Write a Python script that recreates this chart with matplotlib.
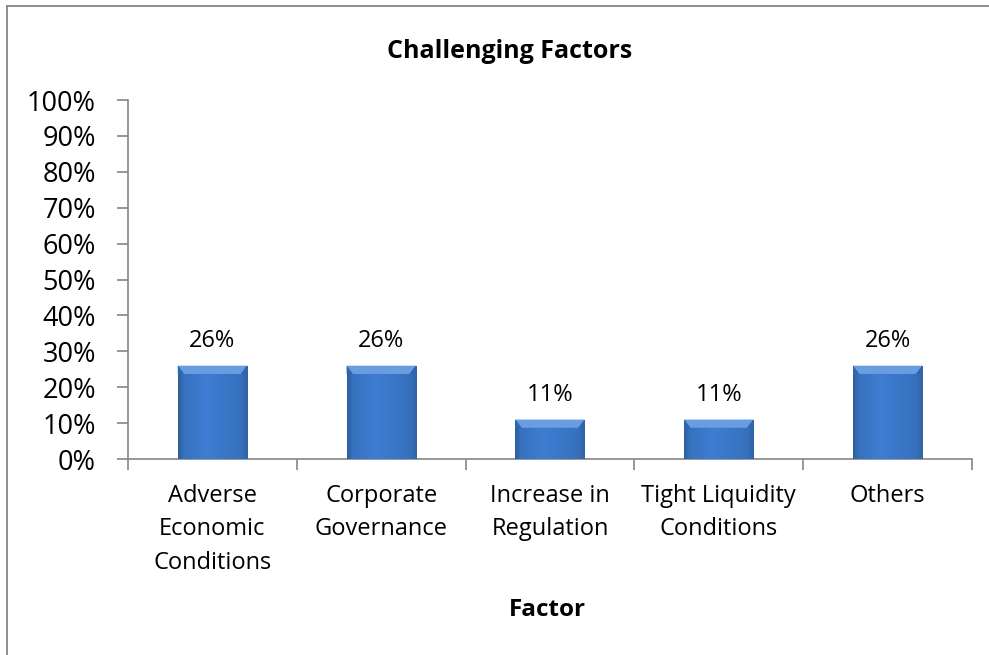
import numpy as np
import matplotlib.pyplot as plt
from matplotlib.patches import Polygon
from matplotlib.lines import Line2D

plt.rcParams['font.family'] = ['Open Sans', 'DejaVu Sans']

# data
categories = ['Adverse\nEconomic\nConditions', 'Corporate\nGovernance', 'Increase in\nRegulation',
              'Tight Liquidity\nConditions', 'Others']
values = [26, 26, 11, 11, 26]

fig = plt.figure(figsize=(9.89, 6.55), dpi=100)
ax = fig.add_axes([0.1294, 0.2992, 0.8534, 0.5481])

# outer chart border (only left/top visible in the reference)
bx, by = 7 / 989, 1 - 5.5 / 655
fig.add_artist(Line2D([bx, bx], [0, by], transform=fig.transFigure, color='#868686', lw=1.3))
fig.add_artist(Line2D([bx, 1], [by, by], transform=fig.transFigure, color='#868686', lw=1.3))

x = np.arange(len(values))
bars = ax.bar(x, values, width=0.41, color='#3b77c6', edgecolor='none', zorder=2)

# horizontal shading for the bars
grad = np.linspace(0, 1, 64)
shade = np.interp(grad, [0, 0.08, 0.4, 0.9, 1], [0.8, 0.96, 1.06, 0.96, 0.84])
base = np.array([0x3a, 0x76, 0xc6]) / 255
img = np.clip(shade[None, :, None] * base[None, None, :], 0, 1)
bev = 2.3
for b in bars:
    x0, w, h = b.get_x(), b.get_width(), b.get_height()
    im = ax.imshow(img, extent=(x0, x0 + w, 0, h), aspect='auto', zorder=3)
    im.set_clip_path(b)
    # top bevel
    dx = w * 0.09
    ax.add_patch(Polygon([(x0, h), (x0 + w, h), (x0 + w - dx, h - bev), (x0 + dx, h - bev)],
                         closed=True, facecolor='#6a9de0', edgecolor='none', zorder=4))
    ax.add_patch(Polygon([(x0, h), (x0 + dx, h - bev), (x0, h - bev)],
                         closed=True, facecolor='#3066b0', edgecolor='none', zorder=4))
    ax.add_patch(Polygon([(x0 + w, h), (x0 + w - dx, h - bev), (x0 + w, h - bev)],
                         closed=True, facecolor='#3066b0', edgecolor='none', zorder=4))
    ax.annotate(f'{h:.0f}%', (x0 + w / 2, h), xytext=(0, 9), textcoords='offset points',
                ha='center', va='bottom', fontsize=17)

ax.set_xlim(-0.5, len(values) - 0.5)
ax.set_ylim(0, 100)
ax.set_yticks(range(0, 101, 10))
ax.set_yticklabels([f'{v}%' for v in range(0, 101, 10)], fontsize=19.5)
ax.set_xticks(x)
ax.set_xticklabels(categories, fontsize=17, linespacing=1.52)
ax.tick_params(axis='x', length=0, pad=18)
ax.set_xticks(np.arange(-0.5, len(values)), minor=True)
ax.tick_params(axis='x', which='minor', length=8, color='#868686', width=1.2)
ax.tick_params(axis='y', length=8, color='#868686', width=1.2, pad=15)

for s in ['top', 'right']:
    ax.spines[s].set_visible(False)
for s in ['left', 'bottom']:
    ax.spines[s].set_color('#868686')
    ax.spines[s].set_linewidth(1.2)

fig.text(0.515, 0.922, 'Challenging Factors', ha='center', va='center', fontsize=18, fontweight='bold')
fig.text(0.554, 0.068, 'Factor', ha='center', va='center', fontsize=17.5, fontweight='bold')

fig.savefig('out.png', dpi=100)
